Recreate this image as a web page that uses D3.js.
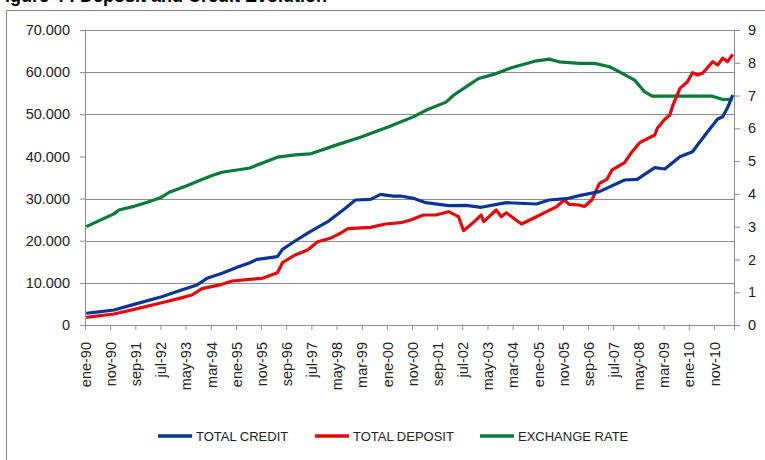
<!DOCTYPE html>
<html>
<head>
<meta charset="utf-8">
<script src="https://cdn.jsdelivr.net/npm/d3@7"></script>
<style>
  body { margin: 0; background: #fff; }
  text { font-family: "Liberation Sans", Arial, sans-serif; fill: #222; }
</style>
</head>
<body>
<div id="chart"></div>
<script>
// Month names used for the category labels (Spanish)
var monthNames = ["ene", "feb", "mar", "abr", "may", "jun", "jul", "ago", "sep", "oct", "nov", "dic"];
var nMonths = 258; // ene-90 .. jun-11
var labelEvery = 10;

// Total credit (left axis), month index from ene-90
var creditMonths = [0, 5, 11, 19, 30, 37, 44, 48, 54, 60, 65, 68, 76, 78, 83, 89, 96, 103, 107, 113, 117, 122, 125, 130, 135, 144, 151, 157, 167, 179, 184, 191, 196, 204, 214, 219, 226, 230, 236, 241, 243, 247, 251, 253, 255, 257];
var credit = [2780, 3100, 3560, 4900, 6720, 8140, 9490, 11080, 12270, 13690, 14780, 15590, 16210, 17960, 19930, 22150, 24520, 27690, 29660, 29820, 31010, 30600, 30610, 30060, 29030, 28310, 28390, 27930, 29030, 28710, 29660, 29970, 30690, 31640, 34410, 34570, 37330, 37020, 39940, 41120, 42710, 45870, 48880, 49430, 51660, 54580];

// Total deposit (left axis)
var depositMonths = [0, 11, 19, 30, 37, 42, 46, 54, 58, 65, 70, 76, 78, 83, 88, 92, 97, 101, 104, 113, 119, 125, 129, 134, 139, 144, 148, 150, 155, 157, 158, 163, 165, 167, 173, 179, 183, 187, 190, 192, 196, 198, 201, 204, 207, 209, 214, 217, 220, 226, 227, 230, 232, 233, 236, 239, 241, 243, 245, 249, 251, 253, 255, 257];
var deposit = [1830, 2610, 3720, 5290, 6330, 7120, 8620, 9650, 10440, 10840, 11080, 12410, 14780, 16610, 17800, 19770, 20570, 21760, 22850, 23180, 23970, 24280, 24920, 26100, 26100, 26890, 25700, 22380, 24920, 26100, 24520, 27290, 25700, 26650, 23970, 25700, 26890, 28070, 29660, 28640, 28470, 28100, 29660, 33620, 34570, 36780, 38510, 41120, 43260, 45090, 46680, 48810, 49830, 51800, 56150, 57730, 59870, 59330, 59720, 62480, 61700, 63290, 62480, 64230];

// Exchange rate (right axis)
var rateMonths = [0, 11, 13, 19, 24, 30, 33, 40, 45, 50, 54, 65, 76, 83, 89, 99, 109, 120, 130, 135, 143, 146, 152, 156, 163, 169, 179, 184, 188, 196, 202, 208, 212, 218, 222, 225, 249, 253, 257];
var rate = [3.00, 3.39, 3.51, 3.62, 3.74, 3.90, 4.05, 4.25, 4.41, 4.56, 4.66, 4.79, 5.12, 5.19, 5.22, 5.48, 5.73, 6.04, 6.35, 6.55, 6.80, 7.01, 7.32, 7.52, 7.67, 7.85, 8.06, 8.11, 8.03, 7.98, 7.98, 7.88, 7.72, 7.47, 7.11, 6.98, 6.98, 6.88, 6.89];

var leftTicks = [0, 10000, 20000, 30000, 40000, 50000, 60000, 70000];
var gridValues = [10000, 20000, 30000, 50000, 60000, 70000];
var rightTicks = [0, 1, 2, 3, 4, 5, 6, 7, 8, 9];

var seriesNames = ["TOTAL CREDIT", "TOTAL DEPOSIT", "EXCHANGE RATE"];
var seriesColors = ["#0b3497", "#e8080c", "#087a3a"];

var svgWidth = 765;
var svgHeight = 460;
var margin = { top: 30, right: 31, bottom: 135, left: 85 };
var chartWidth = svgWidth - margin.left - margin.right;
var chartHeight = svgHeight - margin.top - margin.bottom;

var svg = d3.select("#chart")
  .append("svg")
  .attr("width", svgWidth)
  .attr("height", svgHeight);

// Cut-off figure title and frame
svg.append("text")
  .attr("x", -6)
  .attr("y", 2)
  .attr("font-size", 18)
  .attr("font-weight", "bold")
  .style("fill", "#000")
  .text("Figure 4 : Deposit and Credit Evolution");

svg.append("path")
  .attr("d", "M6.5,460 V10.5 H765")
  .attr("fill", "none")
  .attr("stroke", "#8a8a8a")
  .attr("stroke-width", 1);

var chartGroup = svg.append("g")
  .attr("transform", `translate(${margin.left}, ${margin.top})`);

var xScale = d3.scaleLinear().domain([0, nMonths]).range([0, chartWidth]);
var yLeft = d3.scaleLinear().domain([0, 70000]).range([chartHeight, 0]);
var yRight = d3.scaleLinear().domain([0, 9]).range([chartHeight, 0]);

var fmt = d3.formatLocale({ decimal: ",", thousands: ".", grouping: [3], currency: ["", ""] }).format(",.0f");

// Gridlines
chartGroup.selectAll(".grid")
  .data(gridValues)
  .enter()
  .append("line")
  .attr("x1", 0)
  .attr("x2", chartWidth)
  .attr("y1", d => Math.round(yLeft(d)) + 0.5)
  .attr("y2", d => Math.round(yLeft(d)) + 0.5)
  .attr("stroke", "#8c8c8c")
  .attr("stroke-width", 1);

// Left axis
var leftAxis = chartGroup.append("g")
  .call(d3.axisLeft(yLeft).tickValues(leftTicks).tickFormat(fmt).tickSize(5).tickPadding(10));

// Right axis
var rightAxis = chartGroup.append("g")
  .attr("transform", `translate(${chartWidth}, 0)`)
  .call(d3.axisRight(yRight).tickValues(rightTicks).tickSize(6).tickPadding(8));

// Bottom axis: ticks at every 10th category boundary
var tickMonths = d3.range(0, nMonths, labelEvery);
var tickLabels = ["ene-90", "nov-90", "sep-91", "jul-92", "may-93", "mar-94", "ene-95", "nov-95", "sep-96", "jul-97", "may-98", "mar-99", "ene-00", "nov-00", "sep-01", "jul-02", "may-03", "mar-04", "ene-05", "nov-05", "sep-06", "jul-07", "may-08", "mar-09", "ene-10", "nov-10"];

var bottomAxis = chartGroup.append("g")
  .attr("transform", `translate(0, ${chartHeight})`)
  .call(d3.axisBottom(xScale).tickValues(tickMonths).tickSize(5).tickFormat(""));

bottomAxis.selectAll(".tick")
  .append("text")
  .attr("class", "xlabel")
  .attr("transform", "rotate(-90)")
  .attr("x", -17)
  .attr("y", xScale(0.5) - xScale(0) + 4)
  .attr("text-anchor", "end")
  .text((d, i) => tickLabels[i]);

[leftAxis, rightAxis, bottomAxis].forEach(function(a) {
  a.select(".domain").attr("stroke", "#8c8c8c");
  a.selectAll(".tick line").attr("stroke", "#8c8c8c");
  a.selectAll("text").attr("font-size", 14.5).style("font-family", "'Liberation Sans', Arial, sans-serif").style("fill", "#222");
});
bottomAxis.selectAll("text").attr("font-size", 14.5);

// Lines
function addLine(months, values, scale, color) {
  var pts = months.map((m, i) => [m, values[i]]);
  var line = d3.line()
    .x(d => xScale(d[0] + 0.5))
    .y(d => scale(d[1]));
  chartGroup.append("path")
    .datum(pts)
    .attr("fill", "none")
    .attr("stroke", color)
    .attr("stroke-width", 3.2)
    .attr("stroke-linejoin", "round")
    .attr("d", line);
}

addLine(rateMonths, rate, yRight, seriesColors[2]);
addLine(depositMonths, deposit, yLeft, seriesColors[1]);
addLine(creditMonths, credit, yLeft, seriesColors[0]);

// Legend
var legendX = [158, 315, 480];
var legend = svg.append("g").attr("transform", "translate(0, 436)");
seriesNames.forEach(function(name, i) {
  legend.append("line")
    .attr("x1", legendX[i])
    .attr("x2", legendX[i] + 34)
    .attr("stroke", seriesColors[i])
    .attr("stroke-width", 3.5);
  legend.append("text")
    .attr("x", legendX[i] + 38)
    .attr("y", 5)
    .attr("font-size", 13)
    .text(name);
});
</script>
</body>
</html>
